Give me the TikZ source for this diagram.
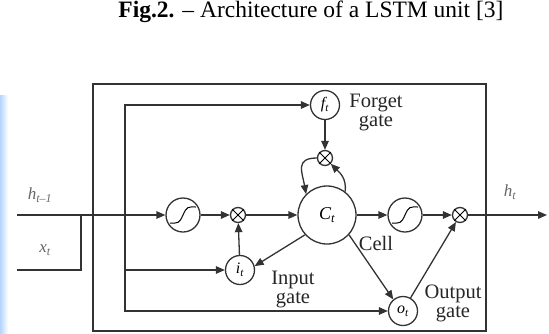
\documentclass[tikz,border=0pt]{standalone}
\usepackage{fontspec}
\setmainfont{Liberation Serif}
\usetikzlibrary{arrows.meta}
\newcommand{\sgm}[1]{%
  \draw[line width=1pt] ([shift={(-13,8)}]#1.center) .. controls +(8,0) and +(-4,9) .. (#1.center)
     .. controls +(4,-9) and +(-8,0) .. ([shift={(13,-8)}]#1.center);}
\newcommand{\mulx}[1]{%
  \draw[line width=0.9pt] (#1.45) -- (#1.225) (#1.135) -- (#1.-45);}
\begin{document}
\begin{tikzpicture}[x=1pt,y=-1pt,line width=1.3pt,
  ln/.style={draw=black!80},
  ar/.style={ln,-{Triangle[length=9pt,width=7.5pt]}},
  gate/.style={circle,draw=black!80,inner sep=0pt,minimum size=29pt,font=\fontsize{16}{16}\selectfont\itshape},
  act/.style={circle,draw=black!80,inner sep=0pt,minimum size=34pt},
  mul/.style={circle,draw=black!80,inner sep=0pt,minimum size=15pt},
  cell/.style={circle,draw=black!80,inner sep=0pt,minimum size=58pt,font=\fontsize{18}{18}\selectfont\itshape},
  lbl/.style={font=\fontsize{20.5}{19}\selectfont,align=center,text=black!85,inner sep=0pt},
  sym/.style={font=\fontsize{17}{17}\selectfont\itshape,text=black!60,inner sep=0pt}]
\useasboundingbox (0,0) rectangle (549,333);
\shade[left color=cyan!45!blue!30, right color=white] (0,95) rectangle (8,333);
% caption
\node[anchor=base,font=\fontsize{23.5}{23.5}\selectfont,inner sep=0pt] (cap) at (311,17)
  {\textbf{Fig.2.} -- Architecture of a LSTM unit [3]};
% outer box
\draw[ln] (93,84) rectangle (486,331);
% nodes
\node[act] (t1) at (183,215) {};
\node[mul] (m1) at (238,215) {};
\node[cell] (Ct) at (327,215) {C\textsubscript{t}};
\node[act] (t2) at (405,215) {};
\node[mul] (m2) at (460,215) {};
\node[gate] (ft) at (325,105) {f\textsubscript{t}};
\node[mul] (m3) at (325,158) {};
\node[gate] (it) at (240,270) {i\textsubscript{t}};
\node[gate] (ot) at (403,311) {o\textsubscript{t}};
\sgm{t1}\sgm{t2}\mulx{m1}\mulx{m2}\mulx{m3}
% coordinates
\coordinate (hin) at (17,215);
\coordinate (xin) at (17,270);
\coordinate (xc) at (81,270);
\coordinate (xj) at (81,215);
\coordinate (j1) at (125,215);
\coordinate (j2) at (125,270);
\coordinate (hout) at (547,215);
% connectors
\draw[ar] (hin) -- (t1);
\draw[ln] (xin) -- (xc) -- (xj);
\draw[ar] (j1) |- (ft);
\draw[ar] (j1) |- (ot);
\draw[ar] (j2) -- (it);
\draw[ar] (t1) -- (m1);
\draw[ar] (it) -- (m1);
\draw[ar] (m1) -- (Ct);
\draw[ar] (Ct) -- (t2);
\draw[ar] (t2) -- (m2);
\draw[ar] (m2) -- (hout);
\draw[ar] (ft) -- (m3);
\draw[ar] (Ct.222) -- (it.15);
\draw[ar] (Ct.-42) -- (ot.130);
\draw[ar] (ot.60) -- (m2.240);
\draw[ar] (m3.west) to[out=180,in=100,looseness=1.5] (Ct.135);
\draw[ar] (Ct.52) to[out=85,in=-45,looseness=1.1] (m3.-45);
% labels
\node[sym] (lh) at (40,195) {h\textsubscript{t–1}};
\node[sym] (lx) at (45,250) {x\textsubscript{t}};
\node[sym] (lho) at (510,192) {h\textsubscript{t}};
\node[lbl] (lf) at (376,112) {Forget\\gate};
\node[lbl] (lc) at (376,243) {Cell};
\node[lbl] (li) at (293,289) {Input\\gate};
\node[lbl] (lo) at (453,303) {Output\\gate};
\end{tikzpicture}
\end{document}
